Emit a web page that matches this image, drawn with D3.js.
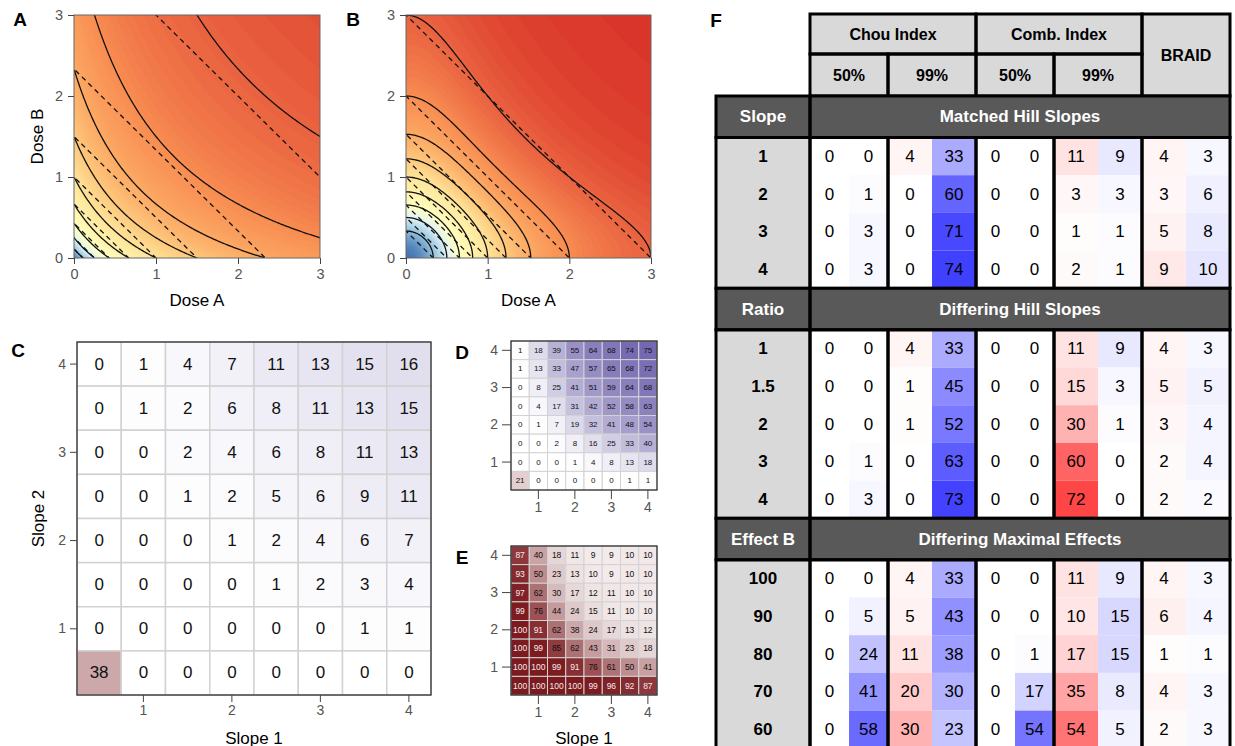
<!DOCTYPE html>
<html>
<head>
<meta charset="utf-8">
<script src="https://cdn.jsdelivr.net/npm/d3@7"></script>
<style>
  body { margin: 0; background: #fff; }
  svg { display: block; font-family: "Liberation Sans", Arial, Helvetica, sans-serif; }
</style>
</head>
<body>
<svg id="fig" width="1235" height="746"></svg>
<script>
// ---- panels A / B : response surfaces ----
const doseTicks = [0, 1, 2, 3];
const effectLevels = [0.1, 0.2, 0.3, 0.4, 0.5, 0.6, 0.7, 0.8, 0.9];
const hillSlopeA = 1;
const hillSlopeB = 2;
const ec50 = 1;
const surfaceStops = [0, 0.1, 0.2, 0.3, 0.5, 0.6, 0.7, 0.8, 0.9, 1];
const surfaceColors = ["#4575b4", "#91bfdb", "#e0f3f8", "#ffffbf", "#fee59a", "#fdc97e", "#fcaa64", "#f88d52", "#ea6340", "#d73027"];

// ---- panels C / D / E : slope grids (rows from Slope 2 = 4 down to 0.5) ----
const slopeLevels = [0.5, 1, 1.5, 2, 2.5, 3, 3.5, 4];
const slopeTicks = [1, 2, 3, 4];
// negative = antagonistic (red), positive = synergistic (purple)
const gridC = [
  [0, 1, 4, 7, 11, 13, 15, 16],
  [0, 1, 2, 6, 8, 11, 13, 15],
  [0, 0, 2, 4, 6, 8, 11, 13],
  [0, 0, 1, 2, 5, 6, 9, 11],
  [0, 0, 0, 1, 2, 4, 6, 7],
  [0, 0, 0, 0, 1, 2, 3, 4],
  [0, 0, 0, 0, 0, 0, 1, 1],
  [-38, 0, 0, 0, 0, 0, 0, 0]
];
const gridD = [
  [1, 18, 39, 55, 64, 68, 74, 75],
  [1, 13, 33, 47, 57, 65, 68, 72],
  [0, 8, 25, 41, 51, 59, 64, 68],
  [0, 4, 17, 31, 42, 52, 58, 63],
  [0, 1, 7, 19, 32, 41, 48, 54],
  [0, 0, 2, 8, 16, 25, 33, 40],
  [0, 0, 0, 1, 4, 8, 13, 18],
  [-21, 0, 0, 0, 0, 0, 1, 1]
];
const gridE = [
  [-87, -40, -18, -11, -9, -9, -10, -10],
  [-93, -50, -23, -13, -10, -9, -10, -10],
  [-97, -62, -30, -17, -12, -11, -10, -10],
  [-99, -76, -44, -24, -15, -11, -10, -10],
  [-100, -91, -62, -38, -24, -17, -13, -12],
  [-100, -99, -85, -62, -43, -31, -23, -18],
  [-100, -100, -99, -91, -76, -61, -50, -41],
  [-100, -100, -100, -100, -99, -96, -92, -87]
];

// ---- panel F : table ----
const methodNames = ["Chou Index", "Comb. Index", "BRAID"];
const levelLabels = ["50%", "99%", "50%", "99%"];
const sectionParams = ["Slope", "Ratio", "Effect B"];
const sectionTitles = ["Matched Hill Slopes", "Differing Hill Slopes", "Differing Maximal Effects"];
const slopeRows = ["1", "2", "3", "4"];
const ratioRows = ["1", "1.5", "2", "3", "4"];
const effectRows = ["100", "90", "80", "70", "60"];
// pairs per column: [antagonistic %, synergistic %]
const matchedValues = [
  [0, 0, 4, 33, 0, 0, 11, 9, 4, 3],
  [0, 1, 0, 60, 0, 0, 3, 3, 3, 6],
  [0, 3, 0, 71, 0, 0, 1, 1, 5, 8],
  [0, 3, 0, 74, 0, 0, 2, 1, 9, 10]
];
const differingSlopeValues = [
  [0, 0, 4, 33, 0, 0, 11, 9, 4, 3],
  [0, 0, 1, 45, 0, 0, 15, 3, 5, 5],
  [0, 0, 1, 52, 0, 0, 30, 1, 3, 4],
  [0, 1, 0, 63, 0, 0, 60, 0, 2, 4],
  [0, 3, 0, 73, 0, 0, 72, 0, 2, 2]
];
const maximalEffectValues = [
  [0, 0, 4, 33, 0, 0, 11, 9, 4, 3],
  [0, 5, 5, 43, 0, 0, 10, 15, 6, 4],
  [0, 24, 11, 38, 0, 1, 17, 15, 1, 1],
  [0, 41, 20, 30, 0, 17, 35, 8, 4, 3],
  [0, 58, 30, 23, 0, 54, 54, 5, 2, 3]
];

const svg = d3.select("#fig");

function panelLetter(txt, x, y) {
  svg.append("text").attr("x", x).attr("y", y)
    .attr("text-anchor", "middle").attr("dominant-baseline", "central")
    .attr("font-weight", "bold").attr("font-size", 19).text(txt);
}

function styleAxis(sel, size) {
  sel.select(".domain").remove();
  sel.selectAll(".tick line").attr("stroke", "#444");
  sel.selectAll(".tick text").attr("fill", "#555").attr("font-size", size)
    .attr("font-family", "Liberation Sans, Arial, sans-serif");
}

// ---------- A / B ----------
const surfaceColor = d3.scaleLinear().domain(surfaceStops).range(surfaceColors);

function single(d, n) {
  const p = Math.pow(Math.abs(d) / ec50, n);
  return p / (1 + p);
}

function surfacePanel(id, x0, y0, w, h, hill, yTitle) {
  const g = svg.append("g").attr("transform", `translate(${x0},${y0})`);
  const xs = d3.scaleLinear().domain([0, 3]).range([0, w]);
  const ys = d3.scaleLinear().domain([0, 3]).range([h, 0]);

  const n = 180, lo = -0.12, hi = 3.12, step = (hi - lo) / (n - 1);
  const bliss = new Array(n * n), loewe = new Array(n * n);
  for (let j = 0; j < n; j++) {
    for (let i = 0; i < n; i++) {
      const a = lo + i * step, b = lo + j * step;
      bliss[j * n + i] = 1 - (1 - single(a, hill)) * (1 - single(b, hill));
      loewe[j * n + i] = single(a + b, hill);
    }
  }
  const path = d3.geoPath(d3.geoTransform({
    point(px, py) { this.stream.point(xs(lo + (px - 0.5) * step), ys(lo + (py - 0.5) * step)); }
  }));

  g.append("clipPath").attr("id", "clip" + id)
    .append("rect").attr("width", w).attr("height", h);
  const inner = g.append("g").attr("clip-path", `url(#clip${id})`);

  inner.append("rect").attr("width", w).attr("height", h).attr("fill", surfaceColor(0));
  const bands = d3.range(0.005, 1, 0.01);
  inner.selectAll("path.band")
    .data(d3.contours().size([n, n]).thresholds(bands)(bliss))
    .join("path").attr("class", "band")
    .attr("d", path)
    .attr("fill", d => surfaceColor(d.value + 0.005))
    .attr("stroke", d => surfaceColor(d.value + 0.005))
    .attr("stroke-width", 0.6);

  inner.selectAll("path.loewe")
    .data(d3.contours().size([n, n]).thresholds(effectLevels)(loewe))
    .join("path").attr("class", "loewe")
    .attr("d", path).attr("fill", "none")
    .attr("stroke", "#111").attr("stroke-width", 1.3)
    .attr("stroke-dasharray", "5,4");

  inner.selectAll("path.bliss")
    .data(d3.contours().size([n, n]).thresholds(effectLevels)(bliss))
    .join("path").attr("class", "bliss")
    .attr("d", path).attr("fill", "none")
    .attr("stroke", "#111").attr("stroke-width", 1.3);

  g.append("rect").attr("width", w).attr("height", h)
    .attr("fill", "none").attr("stroke", "#666").attr("stroke-width", 1);

  g.append("g").attr("transform", `translate(0,${h})`)
    .call(d3.axisBottom(xs).tickValues(doseTicks).tickFormat(d3.format("d")).tickSize(6).tickPadding(5))
    .call(s => styleAxis(s, 14.5));
  g.append("g")
    .call(d3.axisLeft(ys).tickValues(doseTicks).tickFormat(d3.format("d")).tickSize(6).tickPadding(5))
    .call(s => styleAxis(s, 14.5));

  g.append("text").attr("x", w / 2).attr("y", h + 48)
    .attr("text-anchor", "middle").attr("font-size", 17).text("Dose A");
  if (yTitle) {
    g.append("text").attr("transform", `translate(-37,${h / 2}) rotate(-90)`)
      .attr("text-anchor", "middle").attr("dominant-baseline", "central")
      .attr("font-size", 17).text("Dose B");
  }
}

surfacePanel("A", 74, 15, 246, 243, hillSlopeA, true);
surfacePanel("B", 406, 15, 245, 243, hillSlopeB, false);
panelLetter("A", 20, 19);
panelLetter("B", 353, 19);

// ---------- C / D / E ----------
const purple = d3.scaleLinear().domain([0, 80]).range(["#ffffff", "#6b5fab"]).clamp(true);
const darkRed = d3.scaleLinear().domain([0, 100]).range(["#ffffff", "#7b1a1f"]).clamp(true);

function gridPanel(x0, y0, w, h, grid, fontSize, tickSize, labelSize, lineW, xTitle, yTitle) {
  const g = svg.append("g").attr("transform", `translate(${x0},${y0})`);
  const slope2 = slopeLevels.slice().reverse();
  const xs = d3.scaleBand().domain(slopeLevels).range([0, w]);
  const ys = d3.scaleBand().domain(slope2).range([0, h]);
  const cells = [];
  grid.forEach((row, r) => row.forEach((v, c) => cells.push({ s1: slopeLevels[c], s2: slope2[r], v })));

  g.selectAll("rect.cell").data(cells).join("rect").attr("class", "cell")
    .attr("x", d => xs(d.s1)).attr("y", d => ys(d.s2))
    .attr("width", xs.bandwidth()).attr("height", ys.bandwidth())
    .attr("fill", d => d.v < 0 ? darkRed(-d.v) : purple(d.v))
    .attr("stroke", "#d2d2d2").attr("stroke-width", lineW);

  g.selectAll("text.val").data(cells).join("text").attr("class", "val")
    .attr("x", d => xs(d.s1) + xs.bandwidth() / 2)
    .attr("y", d => ys(d.s2) + ys.bandwidth() / 2)
    .attr("text-anchor", "middle").attr("dominant-baseline", "central")
    .attr("font-size", fontSize)
    .attr("fill", d => d.v <= -86 ? "#f4eaea" : "#111")
    .text(d => Math.abs(d.v));

  g.append("rect").attr("width", w).attr("height", h)
    .attr("fill", "none").attr("stroke", "#222").attr("stroke-width", 1.2);

  g.append("g").attr("transform", `translate(0,${h})`)
    .call(d3.axisBottom(xs).tickValues(slopeTicks).tickSize(tickSize).tickPadding(3))
    .call(s => styleAxis(s, labelSize));
  g.append("g")
    .call(d3.axisLeft(ys).tickValues(slopeTicks).tickSize(tickSize).tickPadding(4))
    .call(s => styleAxis(s, labelSize));

  if (xTitle) {
    g.append("text").attr("x", w / 2).attr("y", 738 - y0)
      .attr("text-anchor", "middle").attr("dominant-baseline", "central")
      .attr("font-size", 17).text(xTitle);
  }
  if (yTitle) {
    g.append("text").attr("transform", `translate(${38 - x0},${h / 2}) rotate(-90)`)
      .attr("text-anchor", "middle").attr("dominant-baseline", "central")
      .attr("font-size", 17).text(yTitle);
  }
}

gridPanel(77, 342, 354, 353, gridC, 17, 7, 14, 1.5, "Slope 1", "Slope 2");
gridPanel(511, 341, 146, 149, gridD, 8, 9, 14, 1, null, null);
gridPanel(511, 546, 146, 149, gridE, 8.5, 9, 14, 1, "Slope 1", null);
panelLetter("C", 18, 350);
panelLetter("D", 462, 352);
panelLetter("E", 462, 557);

// ---------- F ----------
panelLetter("F", 716, 20);
const tableLeft = 716, dataLeft = 810, groupW = [78, 88, 78, 88, 88];
const groupX = [];
groupW.reduce((acc, wd) => { groupX.push(acc); return acc + wd; }, dataLeft);
const tableRight = groupX[4] + groupW[4];
const subX = k => groupX[Math.floor(k / 2)] + (k % 2) * groupW[Math.floor(k / 2)] / 2;
const subW = k => groupW[Math.floor(k / 2)] / 2;
const blue = d3.scaleLinear().domain([0, 99]).range(["#ffffff", "#0000ff"]).clamp(true);
const red = d3.scaleLinear().domain([0, 99]).range(["#ffffff", "#ff0000"]).clamp(true);
const ft = svg.append("g");
const border = { stroke: "#000", w: 3 };

function cell(x, y, w, h, fill, txt, opt = {}) {
  ft.append("rect").attr("x", x).attr("y", y).attr("width", w).attr("height", h)
    .attr("fill", fill);
  if (txt !== null) {
    ft.append("text").attr("x", x + w / 2).attr("y", y + h / 2)
      .attr("text-anchor", "middle").attr("dominant-baseline", "central")
      .attr("font-size", opt.size || 17).attr("font-weight", opt.bold ? "bold" : "normal")
      .attr("fill", opt.color || "#000").text(txt);
  }
}
function frame(x, y, w, h) {
  ft.append("rect").attr("x", x).attr("y", y).attr("width", w).attr("height", h)
    .attr("fill", "none").attr("stroke", border.stroke).attr("stroke-width", border.w);
}

// header rows
const hTop = 14, hMid = 54, hBot = 96;
const headerCells = [
  [groupX[0], hTop, groupW[0] + groupW[1], hMid - hTop, methodNames[0]],
  [groupX[2], hTop, groupW[2] + groupW[3], hMid - hTop, methodNames[1]],
  [groupX[4], hTop, groupW[4], hBot - hTop, methodNames[2]]
];
levelLabels.forEach((lab, i) => headerCells.push([groupX[i], hMid, groupW[i], hBot - hMid, lab]));
headerCells.forEach(c => cell(c[0], c[1], c[2], c[3], "#d9d9d9", c[4], { bold: true, size: 16 }));
headerCells.forEach(c => frame(c[0], c[1], c[2], c[3]));

const sectionRows = [slopeRows, ratioRows, effectRows];
const sectionValues = [matchedValues, differingSlopeValues, maximalEffectValues];
const secH = 41.5, rowH = 37.7;
let yCursor = hBot;
sectionParams.forEach((param, s) => {
  const rows = sectionRows[s], vals = sectionValues[s];
  const top = yCursor, rowsTop = top + secH;
  const ry = d3.scaleBand().domain(rows).range([rowsTop, rowsTop + rows.length * rowH]);
  const rowsBottom = rowsTop + rows.length * rowH;

  cell(tableLeft, top, dataLeft - tableLeft, secH, "#595959", param, { bold: true, color: "#fff" });
  cell(dataLeft, top, tableRight - dataLeft, secH, "#595959", sectionTitles[s], { bold: true, color: "#fff" });

  cell(tableLeft, rowsTop, dataLeft - tableLeft, rowsBottom - rowsTop, "#d9d9d9", null);
  rows.forEach((lab, r) => {
    cell(tableLeft, ry(lab), dataLeft - tableLeft, ry.bandwidth(), "#d9d9d9", lab, { bold: true });
    vals[r].forEach((v, k) => {
      cell(subX(k), ry(lab), subW(k), ry.bandwidth(), k % 2 === 0 ? red(v) : blue(v), v);
    });
  });

  frame(tableLeft, top, dataLeft - tableLeft, secH);
  frame(dataLeft, top, tableRight - dataLeft, secH);
  frame(tableLeft, rowsTop, dataLeft - tableLeft, rowsBottom - rowsTop);
  groupW.forEach((wd, gi) => frame(groupX[gi], rowsTop, wd, rowsBottom - rowsTop));
  yCursor = rowsBottom;
});
</script>
</body>
</html>
